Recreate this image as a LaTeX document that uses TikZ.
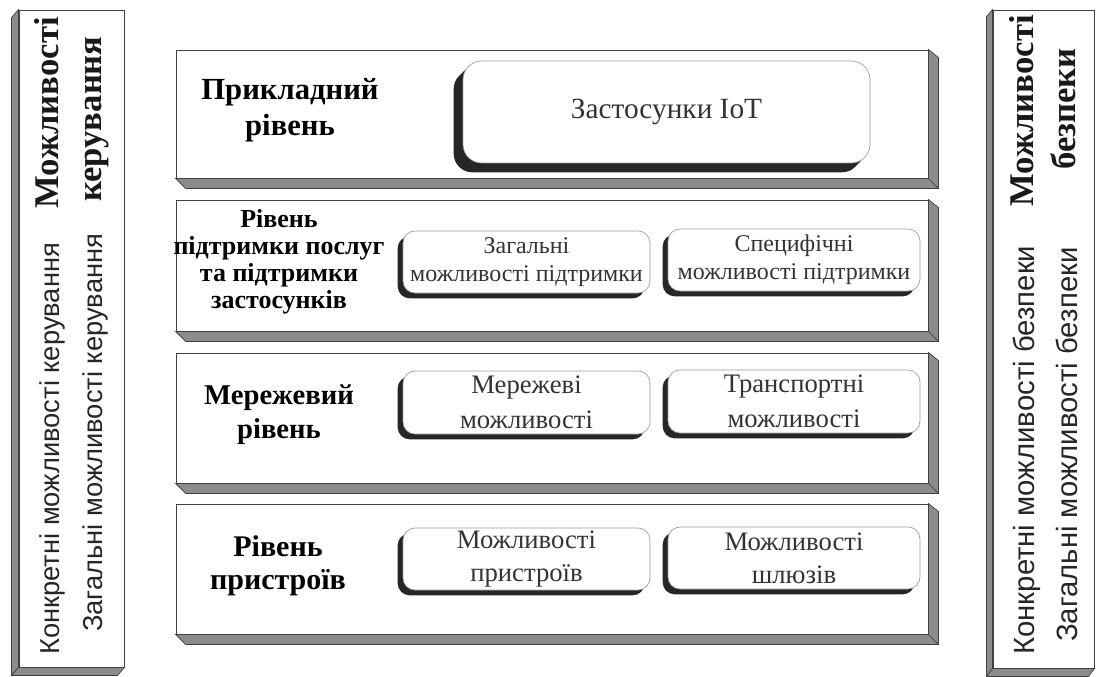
\documentclass[tikz,border=0pt]{standalone}
\usepackage{fontspec}
\setmainfont{Liberation Serif}
\newfontfamily\sidefont{Liberation Sans}
\usetikzlibrary{fit,shadows,calc}
\tikzset{
  face/.style={draw=black!75, line width=0.7pt, fill=white, inner sep=0pt},
  slab/.style={draw=black!75, line width=0.5pt, fill=black!45},
  capbox/.style={draw=black!40, line width=0.5pt, fill=white, inner sep=0pt,
    rounded corners=9pt,
    drop shadow={shadow xshift=-4pt, shadow yshift=-4pt, opacity=1, fill=black!85}},
  bigbox/.style={capbox, rounded corners=14pt,
    drop shadow={shadow xshift=-7pt, shadow yshift=-7pt, opacity=1, fill=black!85}},
  captext/.style={align=center, inner sep=0pt, text=black!80},
  layerlabel/.style={align=center, inner sep=0pt},
  sidetitle/.style={rotate=90, inner sep=0pt, anchor=base east, text=black!90,
    font=\bfseries\fontsize{26}{30}\selectfont},
  sidetext/.style={rotate=90, inner sep=0pt, anchor=base west, text=black!85},
}
\begin{document}
\begin{tikzpicture}[x=0.75pt,y=-0.75pt]
\useasboundingbox (0,0) rectangle (1098,677);

% ---------- left side box ----------
\node[face, fit={(19,10) (124,667)}] (LB) {};
\fill[slab] (LB.north west) -- ++(-7,8) -- ($(LB.south west)+(-7,8)$) -- (LB.south west) -- cycle;
\fill[slab] (LB.south west) -- (LB.south east) -- ++(-7,8) -- ($(LB.south west)+(-7,8)$) -- cycle;
\node[face, fit={(19,10) (124,667)}] (LBf) {};
\node[sidetitle] (LBt1) at (58,17) {Можливості};
\node[sidetitle] (LBt2) at (101,36) {керування};
\node[sidetext, font=\sidefont\fontsize{20.5}{24}\selectfont] (LBt3) at (59,655) {Конкретні можливості керування};
\node[sidetext, font=\sidefont\fontsize{20.5}{24}\selectfont] (LBt4) at (102,632) {Загальні можливості керування};

% ---------- right side box ----------
\node[face, fit={(993,10) (1094,668)}] (RB) {};
\fill[slab] (RB.north west) -- ++(-6,7) -- ($(RB.south west)+(-6,8)$) -- (RB.south west) -- cycle;
\fill[slab] (RB.south west) -- (RB.south east) -- ++(-6,8) -- ($(RB.south west)+(-6,8)$) -- cycle;
\node[face, fit={(993,10) (1094,668)}] (RBf) {};
\node[sidetitle] (RBt1) at (1033,15) {Можливості};
\node[sidetitle] (RBt2) at (1075,48) {безпеки};
\node[sidetext, font=\sidefont\fontsize{22}{26}\selectfont] (RBt3) at (1034,655) {Конкретні можливості безпеки};
\node[sidetext, font=\sidefont\fontsize{22}{26}\selectfont] (RBt4) at (1077,642) {Загальні можливості безпеки};

% ---------- layers ----------
\foreach \n/\ya/\yb in {L1/50/178, L2/200/331, L3/353/483, L4/504/634}{
  \node[face, fit={(176,\ya) (928,\yb)}] (\n) {};
  \fill[slab] (\n.north east) -- ++(10,8) -- ($(\n.south east)+(10,10)$) -- (\n.south east) -- cycle;
  \fill[slab] (\n.south west) -- (\n.south east) -- ++(10,10) -- ($(\n.south west)+(10,10)$) -- cycle;
}

\node[layerlabel, font=\bfseries\fontsize{23}{27}\selectfont] (L1t) at (290,110) {Прикладний\\рівень};
\node[layerlabel, font=\bfseries\fontsize{19.5}{20.3}\selectfont] (L2t) at (279,262) {Рівень\\підтримки послуг\\та підтримки\\застосунків};
\node[layerlabel, font=\bfseries\fontsize{21.5}{25.5}\selectfont] (L3t) at (279,415) {Мережевий\\рівень};
\node[layerlabel, font=\bfseries\fontsize{22.5}{25}\selectfont] (L4t) at (278,566) {Рівень\\пристроїв};

% ---------- capability boxes ----------
\node[bigbox, fit={(463,61) (870,163)}] (A1) {};
\node[captext, font=\fontsize{22}{26}\selectfont] (A1t) at (A1.center) {Застосунки IoT};
\node[capbox, fit={(403,231) (650,293)}] (A2) {};
\node[captext, font=\fontsize{18}{21}\selectfont] (A2t) at (A2.center) {Загальні\\можливості підтримки};
\node[capbox, fit={(668,229) (920,291)}] (A3) {};
\node[captext, font=\fontsize{18}{21}\selectfont] (A3t) at (A3.center) {Специфічні\\можливості підтримки};
\node[capbox, fit={(403,371) (650,434)}] (A4) {};
\node[captext, font=\fontsize{20}{26}\selectfont] (A4t) at (A4.center) {Мережеві\\можливості};
\node[capbox, fit={(668,370) (920,433)}] (A5) {};
\node[captext, font=\fontsize{20}{26}\selectfont] (A5t) at (A5.center) {Транспортні\\можливості};
\node[capbox, fit={(403,528) (650,590)}] (A6) {};
\node[captext, font=\fontsize{20}{25}\selectfont] (A6t) at (A6.center) {Можливості\\пристроїв};
\node[capbox, fit={(668,527) (920,589)}] (A7) {};
\node[captext, font=\fontsize{20}{25}\selectfont] (A7t) at (A7.center) {Можливості\\шлюзів};
\end{tikzpicture}
\end{document}
